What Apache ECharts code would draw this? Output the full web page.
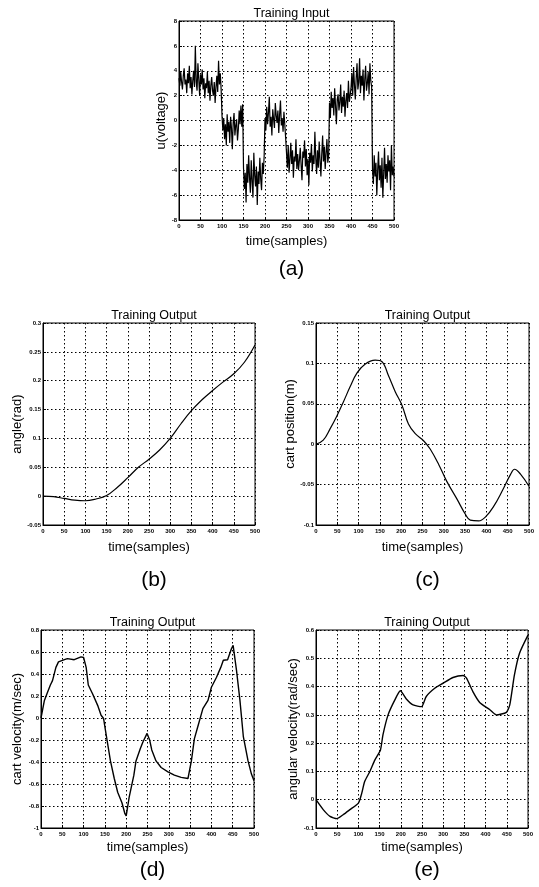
<!DOCTYPE html>
<html>
<head>
<meta charset="utf-8">
<script src="https://cdn.jsdelivr.net/npm/echarts@6/dist/echarts.min.js"></script>
<style>
html,body{margin:0;padding:0;background:#fff;}
#c{width:539px;height:887px;}
</style>
</head>
<body>
<div id="c"></div>
<script>
// (a) Training input voltage, samples 0..500 every 2
const aY = [
3.4,2.8,3.9,3.1,2.5,3.6,4.2,2.9,3.3,2.2,3.8,3.0,4.4,2.6,3.5,2.1,3.2,4.0,2.7,6.0,3.1,2.4,4.6,3.3,2.0,3.7,2.9,4.1,2.5,3.4,1.8,3.0,2.6,3.9,2.2,3.2,1.6,2.8,3.5,2.4,2.0,3.1,1.4,2.7,3.6,2.3,4.8,2.9,3.8,2.5,
0.4,-0.8,0.2,-1.5,-0.3,-2.0,0.5,-0.9,-0.1,-1.8,0.3,-0.6,-2.3,-0.2,0.6,-1.2,-0.4,0.1,-1.6,-0.7,0.8,-0.3,1.2,-0.5,1.3,
-3.8,-5.5,-4.2,-6.6,-3.5,-5.0,-2.8,-4.6,-5.8,-3.2,-4.9,-6.2,-2.6,-4.4,-5.3,-3.7,-6.8,-4.1,-5.1,-3.0,-4.7,-5.6,-3.4,-4.3,-2.9,
0.2,-0.8,1.1,-0.3,0.6,1.9,-0.5,0.3,-1.2,0.9,0.1,-0.6,1.4,0.4,-0.2,0.8,-1.0,0.5,1.6,-0.4,0.2,-0.9,0.7,-0.3,-1.4,
-2.6,-3.8,-2.0,-4.2,-3.1,-1.8,-3.5,-2.4,-4.6,-2.9,-3.3,-1.5,-3.9,-2.7,-4.0,-3.2,-2.2,-3.6,-4.8,-2.5,-3.0,-1.6,-3.7,-2.3,-4.4,-3.1,-5.2,-2.6,-3.4,-1.9,-4.1,-2.8,-3.5,-0.9,-3.0,-4.3,-2.4,-3.8,-1.7,-3.2,-4.5,-2.7,-1.2,-3.3,-2.1,-3.9,-2.6,-1.5,-3.4,-2.8,
1.4,0.2,2.3,1.0,1.8,0.4,2.6,1.2,-0.3,1.7,2.1,0.8,1.5,2.9,0.6,1.9,1.1,2.4,0.3,1.6,2.2,1.0,3.2,1.5,2.0,
2.6,3.8,2.0,4.3,2.9,1.7,3.4,4.6,2.5,3.1,5.0,2.2,3.6,2.8,4.1,1.6,3.3,4.4,2.4,3.0,3.9,2.1,4.6,3.2,2.7,
-3.9,-5.1,-2.8,-4.5,-3.4,-6.0,-4.0,-2.5,-4.8,-3.6,-5.4,-3.0,-6.2,-4.3,-2.2,-4.7,-3.5,-5.0,-2.8,-4.1,-3.2,-5.6,-2.0,-4.4,-3.7,-4.5
];
const aStep = 2;

// (b) angle (rad)
const bX = [0,25,50,75,100,125,150,175,200,225,250,275,300,325,350,375,400,425,450,475,500];
const bY = [0,-0.001,-0.004,-0.007,-0.008,-0.005,0.001,0.015,0.032,0.05,0.064,0.08,0.1,0.125,0.148,0.167,0.183,0.198,0.212,0.232,0.262];

// (c) cart position (m)
const cX = [0,17,33,49,64,80,96,115,139,155,170,186,202,217,233,253,268,288,307,331,351,362,382,398,417,437,457,466,480,500];
const cY = [0,0.005,0.019,0.035,0.052,0.071,0.088,0.099,0.104,0.102,0.085,0.065,0.048,0.025,0.013,0.004,-0.006,-0.025,-0.046,-0.068,-0.087,-0.094,-0.095,-0.09,-0.077,-0.058,-0.037,-0.031,-0.037,-0.052];

// (d) cart velocity (m/sec)
const dX = [0,8,14,22,27,35,41,55,62,78,94,100,106,111,121,133,141,147,150,155,163,172,180,190,197,200,207,218,223,233,239,249,255,260,270,282,298,313,329,345,349,353,360,368,380,392,400,412,422,428,438,447,451,459,467,475,486,494,500];
const dY = [0,0.16,0.22,0.3,0.34,0.46,0.51,0.53,0.54,0.53,0.556,0.55,0.46,0.3,0.22,0.115,0.025,-0.005,-0.08,-0.2,-0.39,-0.55,-0.675,-0.77,-0.87,-0.89,-0.72,-0.52,-0.39,-0.28,-0.22,-0.14,-0.2,-0.29,-0.39,-0.45,-0.49,-0.52,-0.54,-0.55,-0.56,-0.39,-0.19,-0.08,0.085,0.16,0.28,0.37,0.46,0.525,0.53,0.63,0.66,0.43,0.16,-0.17,-0.39,-0.51,-0.57];

// (e) angular velocity (rad/sec)
const eX = [0,17,33,49,64,80,100,107,115,127,139,152,158,170,186,199,213,229,249,260,280,300,323,347,355,370,386,410,425,449,457,468,480,500];
const eY = [0,-0.035,-0.059,-0.067,-0.053,-0.035,-0.012,0.018,0.065,0.1,0.141,0.176,0.23,0.3,0.353,0.385,0.356,0.335,0.329,0.365,0.394,0.412,0.432,0.439,0.43,0.382,0.344,0.318,0.3,0.309,0.335,0.441,0.518,0.582];

const titles = ['Training Input','Training Output','Training Output','Training Output','Training Output'];
const yNames = ['u(voltage)','angle(rad)','cart position(m)','cart velocity(m/sec)','angular velocity(rad/sec)'];
const xName = 'time(samples)';
const panelLabels = ['(a)','(b)','(c)','(d)','(e)'];
const yRanges = [[-8,8,2],[-0.05,0.3,0.05],[-0.1,0.15,0.05],[-1,0.8,0.2],[-0.1,0.6,0.1]];

const zip = (xs, ys) => xs.map((x, i) => [x, ys[i]]);
const aData = aY.map((v, i) => [i * aStep, v]);

const grids = [
  {left:179, top:21, width:215, height:199},
  {left:43, top:323, width:212, height:202},
  {left:316, top:323, width:213, height:202},
  {left:41, top:630, width:213, height:198},
  {left:316, top:630, width:212, height:198}
];
const yNameGaps = [7, 18, 14, 17, 14];
const xNameGaps = [15, 16, 16, 13, 13];
const labelOffsets = [34, 40, 40, 27, 27];
const FONT = 'Liberation Sans, Arial, sans-serif';

const option = {
  backgroundColor: '#fff',
  animation: false,
  title: [],
  grid: grids.map(g => Object.assign({show:true, borderColor:'#000', borderWidth:1}, g)),
  xAxis: [], yAxis: [], series: []
};

grids.forEach((g, i) => {
  option.title.push({
    text: titles[i], left: g.left + g.width/2, top: g.top - 19, textAlign: 'center',
    textStyle: {fontFamily: FONT, fontSize: 12.5, fontWeight: 'normal', color: '#000'}
  });
  option.title.push({
    text: panelLabels[i], left: g.left + g.width/2, top: g.top + g.height + labelOffsets[i], textAlign: 'center',
    textStyle: {fontFamily: FONT, fontSize: 21, fontWeight: 'normal', color: '#000'}
  });
  option.xAxis.push({
    gridIndex: i, type: 'value', min: 0, max: 500, interval: 50,
    name: xName, nameLocation: 'middle', nameGap: xNameGaps[i],
    nameTextStyle: {fontFamily: FONT, fontSize: 13, color: '#000'},
    axisLine: {show: true, onZero: false, lineStyle: {color: '#000'}},
    axisTick: {show: true, inside: true, length: 3, lineStyle: {color: '#000'}},
    axisLabel: {fontFamily: FONT, fontSize: 6, fontWeight: 'bold', color: '#000', margin: 3},
    splitLine: {show: true, lineStyle: {color: '#000', type: [1.5, 2.5], width: 1}}
  });
  const r = yRanges[i];
  option.yAxis.push({
    gridIndex: i, type: 'value', min: r[0], max: r[1], interval: r[2],
    name: yNames[i], nameLocation: 'middle', nameGap: yNameGaps[i],
    nameTextStyle: {fontFamily: FONT, fontSize: 13, color: '#000'},
    axisLine: {show: true, onZero: false, lineStyle: {color: '#000'}},
    axisTick: {show: true, inside: true, length: 3, lineStyle: {color: '#000'}},
    axisLabel: {fontFamily: FONT, fontSize: 6, fontWeight: 'bold', color: '#000', margin: 2},
    splitLine: {show: true, lineStyle: {color: '#000', type: [1.5, 2.5], width: 1}}
  });
});

const seriesData = [aData, zip(bX, bY), zip(cX, cY), zip(dX, dY), zip(eX, eY)];
const smoothFlags = [false, 0.4, 0.4, false, 0.2];
const widths = [1.2, 1.2, 1.2, 1.4, 1.4];
seriesData.forEach((d, i) => {
  option.series.push({
    type: 'line', xAxisIndex: i, yAxisIndex: i, data: d,
    showSymbol: false, smooth: smoothFlags[i],
    lineStyle: {color: '#000', width: widths[i]},
    clip: true
  });
});

const chart = echarts.init(document.getElementById('c'), null, {renderer: 'canvas'});
chart.setOption(option);
</script>
</body>
</html>
